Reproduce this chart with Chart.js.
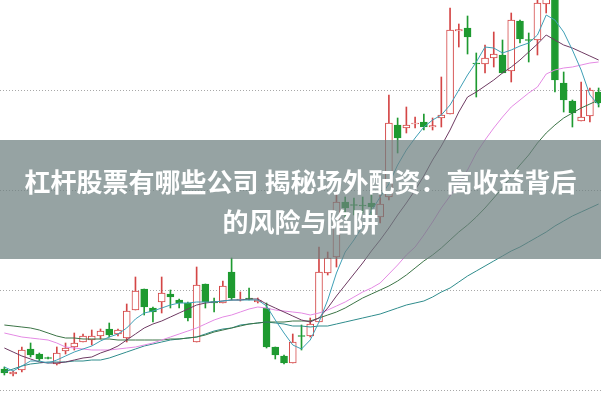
<!DOCTYPE html>
<html><head><meta charset="utf-8">
<script src="https://cdn.jsdelivr.net/npm/chart.js@4"></script>
<style>
html,body{margin:0;padding:0;width:601px;height:401px;overflow:hidden;background:#fff;}
#wrap{position:absolute;left:0;top:0;width:603px;height:401px;}
#banner{position:absolute;left:0;top:140px;width:601px;height:119px;background:rgba(110,128,128,0.72);color:#fff;font-family:"Noto Sans CJK SC","Noto Sans",sans-serif;font-weight:700;font-size:26px;line-height:40px;text-align:center;padding-top:21px;box-sizing:border-box;white-space:nowrap;}
</style></head><body>
<div id="wrap"><canvas id="c"></canvas></div>
<div id="banner"><div>杠杆股票有哪些公司 揭秘场外配资：高收益背后</div><div>的风险与陷阱</div></div>
<script>
const openP  = [10.21,10.16,10.20,10.41,10.36,10.325,10.26,10.39,10.43,10.48, 10.50,10.54,10.61,10.56,10.52,10.80,11.01,10.82,10.88,10.96, 10.90,10.87,10.48,11.06,10.885,10.87,11.18,10.90,10.92,10.88, 10.82,10.43,10.34,10.27,10.545,10.54,10.68,11.17,11.33,11.88, 11.855,11.85,11.87,11.73,11.93,12.65,12.62,12.66,12.68,12.63, 12.72,12.76,13.59,13.62,13.27,13.26,13.32,13.35,13.19,13.69, 13.505,13.50,13.86,13.95,13.07,12.89,12.69,12.74,12.98];
const closeP = [10.17,10.18,10.40,10.35,10.31,10.315,10.37,10.42,10.47,10.54, 10.54,10.59,10.55,10.60,10.79,10.99,10.83,10.78,10.97,10.93, 10.87,10.72,11.05,10.88,10.87,11.04,10.92,10.91,10.905,10.90, 10.43,10.35,10.27,10.48,10.535,10.66,11.18,11.32,11.88,11.82, 11.845,11.84,11.83,11.86,12.67,12.52,12.65,12.67,12.63,12.645, 12.75,13.60,13.605,13.53,13.26,13.32,13.36,13.17,13.70,13.51, 13.495,13.87,13.95,13.10,12.90,12.77,12.73,13.00,12.87];
const highP  = [10.23,10.19,10.43,10.47,10.37,10.33,10.43,10.47,10.57,10.56, 10.60,10.61,10.67,10.61,10.86,11.13,11.01,10.83,11.13,11.00, 10.91,10.88,11.23,11.06,10.92,11.09,11.32,10.98,11.02,10.92, 10.87,10.43,10.35,10.56,10.65,10.72,11.43,11.38,11.97,11.93, 11.92,11.93,11.95,11.95,12.95,12.72,12.83,12.73,12.76,12.72, 13.13,13.82,13.66,13.74,13.37,13.45,13.58,13.50,13.77,13.70, 13.57,13.95,14.00,14.00,13.18,12.90,13.08,13.02,13.02];
const lowP   = [10.15,10.14,10.18,10.33,10.29,10.31,10.25,10.36,10.40,10.48, 10.45,10.51,10.53,10.54,10.48,10.80,10.75,10.68,10.77,10.82, 10.82,10.69,10.48,10.82,10.78,10.87,10.90,10.89,10.90,10.87, 10.42,10.31,10.26,10.27,10.40,10.53,10.68,11.15,11.23,11.73, 11.75,11.77,11.74,11.67,11.90,12.37,12.57,12.62,12.60,12.60, 12.63,12.76,13.43,13.36,12.93,13.17,13.23,13.17,13.08,13.47, 13.28,13.35,13.77,12.98,12.78,12.63,12.69,12.68,12.83];

const ma5  = [10.23,10.19,10.24,10.29,10.29,10.27,10.30,10.34,10.38,10.41, 10.44,10.49,10.53,10.56,10.62,10.71,10.77,10.79,10.82,10.85, 10.87,10.87,10.88,10.88,10.88,10.89,10.90,10.90,10.90,10.90, 10.84,10.70,10.57,10.45,10.41,10.50,10.68,10.90,11.17,11.38, 11.50,11.64,11.79,11.93,12.06,12.25,12.40,12.52,12.63,12.70, 12.75,12.85,13.00,13.15,13.28,13.43,13.42,13.37,13.40,13.44, 13.47,13.55,13.75,13.70,13.58,13.40,13.20,12.95,12.85];
const ma10 = [10.42,10.38,10.34,10.31,10.28,10.27,10.27,10.28,10.30,10.32, 10.33,10.37,10.40,10.44,10.50,10.56,10.62,10.66,10.69,10.73, 10.77,10.81,10.85,10.87,10.88,10.89,10.90,10.90,10.91,10.91, 10.86,10.82,10.78,10.74,10.70,10.68,10.72,10.82,10.94,11.05, 11.16,11.27,11.39,11.50,11.62,11.75,11.87,12.00,12.14,12.30, 12.44,12.60,12.78,12.93,12.98,13.04,13.10,13.17,13.23,13.30, 13.38,13.46,13.55,13.50,13.45,13.42,13.38,13.34,13.30];
const ma20 = [10.57,10.55,10.53,10.52,10.51,10.50,10.47,10.43,10.42,10.41, 10.40,10.40,10.40,10.41,10.42,10.43,10.45,10.47,10.50,10.53, 10.56,10.59,10.62,10.66,10.70,10.73,10.75,10.78,10.81,10.83, 10.82,10.80,10.79,10.78,10.77,10.75,10.77,10.80,10.84,10.88, 10.93,10.98,11.02,11.07,11.16,11.25,11.35,11.43,11.55,11.68, 11.82,11.94,12.06,12.20,12.37,12.50,12.62,12.73,12.83,12.90, 12.97,13.03,13.16,13.20,13.22,13.23,13.25,13.27,13.28];
const ma30 = [10.65,10.64,10.63,10.62,10.60,10.57,10.54,10.52,10.52,10.51, 10.51,10.51,10.51,10.50,10.50,10.50,10.50,10.50,10.50,10.51, 10.51,10.52,10.53,10.55,10.58,10.60,10.62,10.64,10.66,10.67, 10.68,10.68,10.68,10.69,10.69,10.69,10.72,10.75,10.78,10.82, 10.87,10.92,10.96,11.00,11.04,11.09,11.15,11.22,11.29,11.35, 11.42,11.50,11.58,11.65,11.73,11.82,11.92,12.02,12.14,12.25, 12.35,12.47,12.57,12.65,12.72,12.77,12.82,12.86,12.90];
const ma60 = [10.18,10.21,10.24,10.26,10.27,10.28,10.28,10.28,10.29,10.29, 10.30,10.30,10.32,10.35,10.38,10.41,10.44,10.46,10.48,10.50, 10.51,10.52,10.53,10.56,10.59,10.61,10.62,10.65,10.66,10.67, 10.68,10.67,10.66,10.64,10.64,10.63,10.64,10.64,10.66,10.68, 10.70,10.72,10.74,10.76,10.79,10.82,10.85,10.87,10.89,10.93, 10.98,11.02,11.08,11.14,11.19,11.24,11.29,11.34,11.39,11.43, 11.48,11.53,11.58,11.64,11.69,11.74,11.78,11.82,11.86];

const days = openP.map((_, i) => 'D' + (i + 1));
const yTicks = [10, 11, 12, 13];

const UP = '#d44646', DOWN = '#1e9a30';
const isUp = openP.map((o, i) => closeP[i] >= o);
const candleColor = isUp.map(u => u ? UP : DOWN);

const line = (data, color) => ({
  type: 'line', data, borderColor: color, borderWidth: 1, pointRadius: 0,
  tension: 0, fill: false, order: 0
});

new Chart(document.getElementById('c'), {
  type: 'bar',
  data: {
    labels: days,
    datasets: [
      line(ma5, '#3f9fb6'),
      line(ma10, '#6e3a62'),
      line(ma20, '#e48ae4'),
      line(ma30, '#3b7446'),
      line(ma60, '#2f8c8c'),
      {
        type: 'bar', data: openP.map((o, i) => [o, closeP[i]]),
        backgroundColor: isUp.map(u => u ? '#ffffff' : DOWN),
        borderColor: candleColor, borderWidth: 1, borderSkipped: false,
        barThickness: 7, grouped: false, order: 1
      },
      {
        type: 'bar', data: lowP.map((l, i) => [l, highP[i]]),
        backgroundColor: candleColor, borderWidth: 0,
        barThickness: 1, grouped: false, order: 2
      }
    ]
  },
  options: {
    responsive: true, maintainAspectRatio: false, animation: false,
    layout: { padding: 0 },
    plugins: { legend: { display: false }, tooltip: { enabled: false } },
    scales: {
      x: { display: false, offset: true },
      y: {
        min: 9.89, max: 13.90,
        afterBuildTicks: s => { s.ticks = yTicks.map(v => ({ value: v })); },
        ticks: { display: false },
        grid: { drawTicks: false, color: '#a8a8a8', lineWidth: 1 },
        border: { display: false, dash: [1, 2] }
      }
    }
  }
});
</script>
</body></html>
